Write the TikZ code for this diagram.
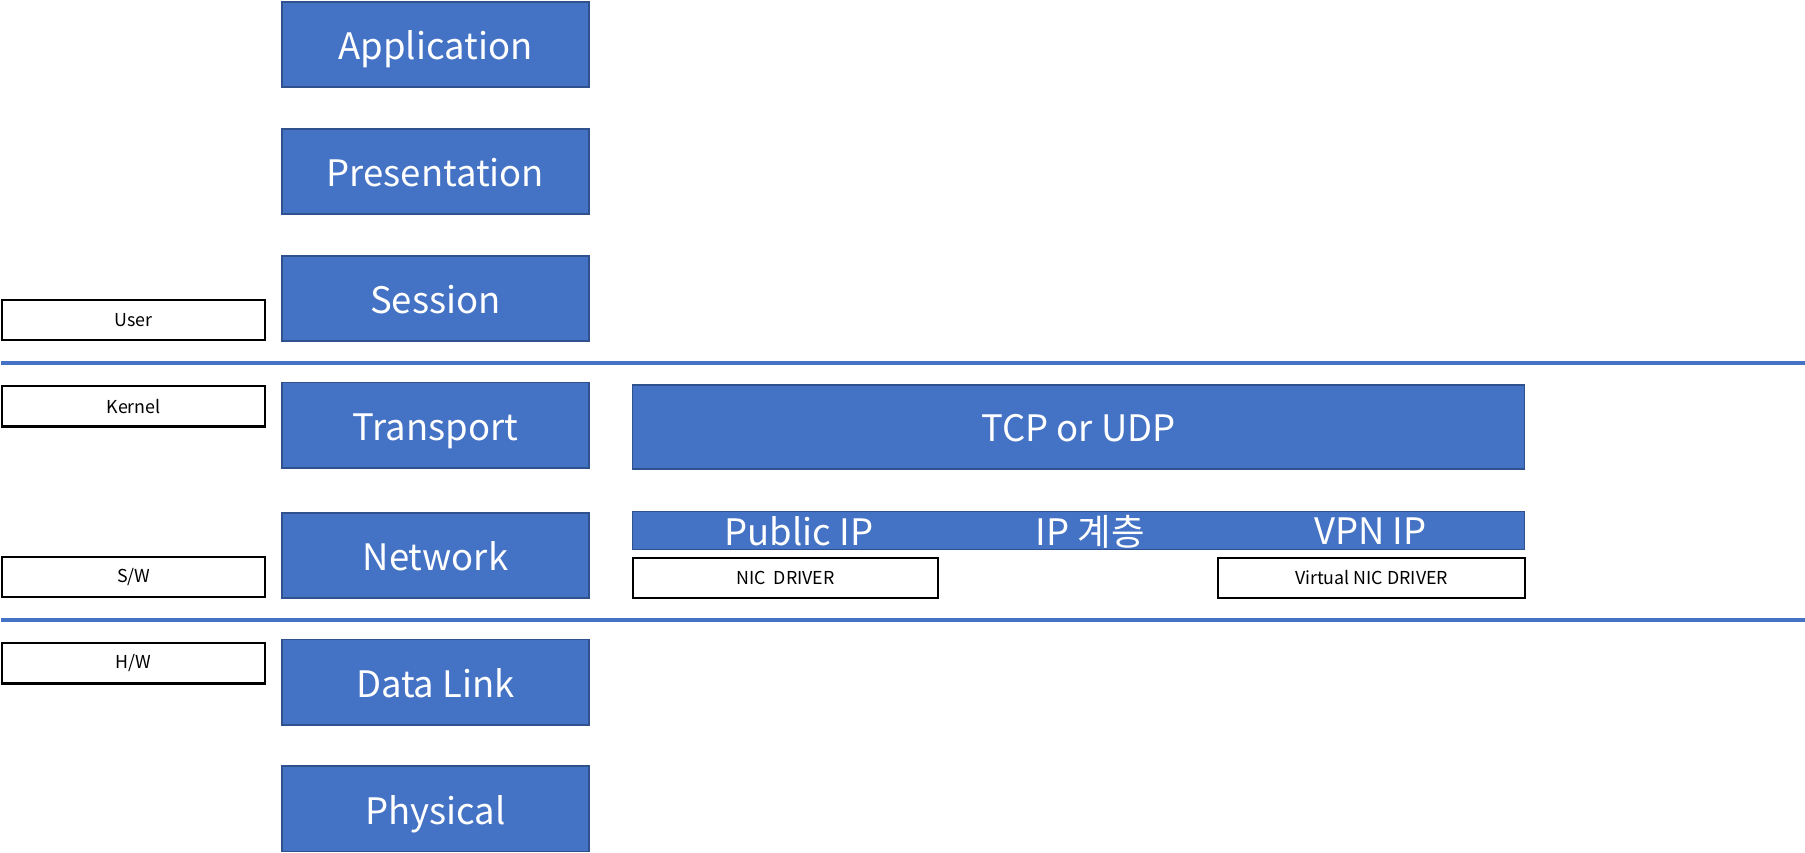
\documentclass[tikz,border=0pt]{standalone}
\usepackage{fontspec}
\setmainfont{Noto Sans CJK KR}
\usetikzlibrary{positioning}
\definecolor{osiblue}{HTML}{4472C4}
\definecolor{osiedge}{HTML}{2F528F}
\tikzset{
  layer/.style={draw=osiedge, fill=osiblue, text=white, line width=0.9pt,
    inner sep=0pt, anchor=north west, text height=16pt, text depth=1pt,
    font=\fontsize{18}{22}\selectfont}, % blue OSI boxes
  tag/.style={draw=black, fill=white, line width=1.1pt, inner sep=0pt,
    anchor=north west, font=\fontsize{8.8}{10}\selectfont}, % small white labels
  bartext/.style={text=white, inner sep=0pt, font=\fontsize{18}{22}\selectfont},
  sepline/.style={draw=osiblue, line width=1.8pt}, % user/kernel and sw/hw borders
}

\begin{document}
\begin{tikzpicture}[x=0.02cm, y=-0.02cm]
  \useasboundingbox (0,0) rectangle (1566,740);

  % the seven layers
  \foreach \y/\name/\txt in {1/app/Application, 111/pres/Presentation, 221/sess/Session,
      331/trans/Transport, 444/net/Network, 554/link/Data Link, 664/phys/Physical}
    \node[layer, minimum width=5.32cm, minimum height=1.48cm] (\name) at (244,\y) {\txt};

  % left labels
  \node[tag, minimum width=4.56cm, minimum height=0.7cm] (user) at (1,259) {User};
  \node[tag, minimum width=4.56cm, minimum height=0.7cm] (kernel) at (1,334) {Kernel};
  \node[tag, minimum width=4.56cm, minimum height=0.7cm] (sw) at (1,482) {S/W};
  \node[tag, minimum width=4.56cm, minimum height=0.7cm] (hw) at (1,557) {H/W};

  % borders
  \coordinate (ukL) at (1,315);
  \coordinate (ukR) at (1566,315);
  \coordinate (shL) at (1,538);
  \coordinate (shR) at (1566,538);
  \draw[sepline] (ukL) -- (ukR);
  \draw[sepline] (shL) -- (shR);

  % right side
  \node[layer, minimum width=15.48cm, minimum height=1.46cm] (tcp) at (548,333) {TCP or UDP};
  \node[layer, minimum width=15.48cm, minimum height=0.66cm] (ipbar) at (548,443) {};
  \node[bartext] (pubip) at (693,461) {Public IP};
  \node[bartext] (iplayer) at (946,461) {IP 계층};
  \node[bartext] (vpnip) at (1189,461) {VPN IP};
  \node[tag, minimum width=5.3cm, minimum height=0.7cm] (nic) at (548,483) {NIC\ \ DRIVER};
  \node[tag, minimum width=5.32cm, minimum height=0.7cm] (vnic) at (1056,483) {Virtual NIC DRIVER};
\end{tikzpicture}
\end{document}
